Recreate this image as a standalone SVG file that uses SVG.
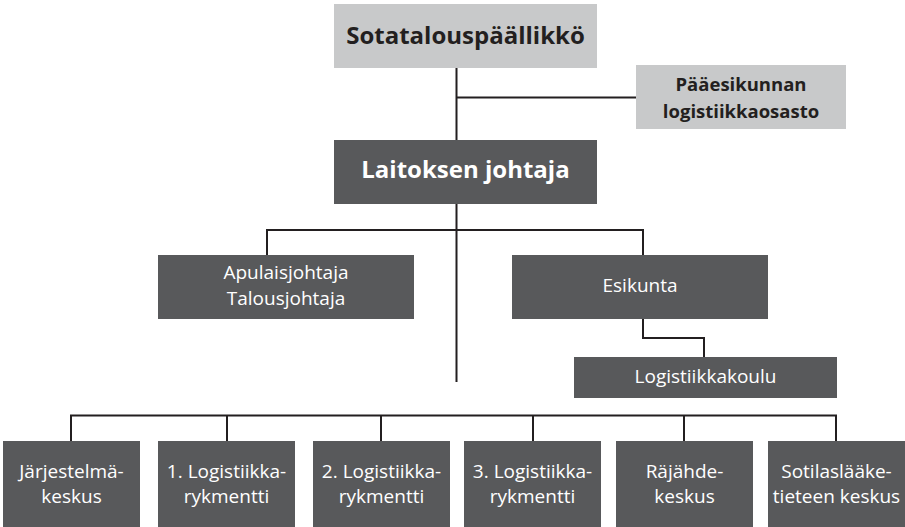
<svg xmlns="http://www.w3.org/2000/svg" width="905" height="527" viewBox="0 0 905 527">
<style>
.light{fill:#c8c9ca}
.dark{fill:#58595b}
.tb{font-family:"Open Sans","Liberation Sans",sans-serif;font-weight:700;fill:#231f20;text-anchor:middle}
.tw{font-family:"Open Sans","Liberation Sans",sans-serif;font-weight:700;fill:#ffffff;text-anchor:middle}
.tr{font-family:"Open Sans","Liberation Sans",sans-serif;font-weight:400;fill:#ffffff;text-anchor:middle;font-size:19px}
.ln{fill:none;stroke:#231f20;stroke-width:2}
</style>
<rect width="905" height="527" fill="#ffffff"/>
<g id="connectors">
<path class="ln" d="M456.5 68 V382"/>
<path class="ln" d="M456.5 97.5 H636"/>
<path class="ln" d="M267 255 V230 H643 V255"/>
<path class="ln" d="M643 319 V338 H704 V357"/>
<path class="ln" d="M71 441 V415.5 H836 V441"/>
<path class="ln" d="M227 415.5 V441 M381 415.5 V441 M533 415.5 V441 M684 415.5 V441"/>
</g>
<g id="sotatalouspaallikko">
<rect class="light" x="334" y="4" width="263" height="64"/>
<text class="tb" x="465.5" y="44" font-size="24">Sotatalouspäällikkö</text>
</g>
<g id="paaesikunta">
<rect class="light" x="636" y="65" width="210" height="64"/>
<text class="tb" x="741" y="91" font-size="18.5">Pääesikunnan</text>
<text class="tb" x="741" y="118" font-size="18.5">logistiikkaosasto</text>
</g>
<g id="laitoksen-johtaja">
<rect class="dark" x="334" y="140" width="263" height="64"/>
<text class="tw" x="465.5" y="178" font-size="24">Laitoksen johtaja</text>
</g>
<g id="apulaisjohtaja">
<rect class="dark" x="158" y="255" width="256" height="64"/>
<text class="tr" x="286" y="279">Apulaisjohtaja</text>
<text class="tr" x="286" y="305">Talousjohtaja</text>
</g>
<g id="esikunta">
<rect class="dark" x="512" y="255" width="256" height="64"/>
<text class="tr" x="640" y="292">Esikunta</text>
</g>
<g id="logistiikkakoulu">
<rect class="dark" x="574" y="357" width="263" height="41"/>
<text class="tr" x="705.5" y="383">Logistiikkakoulu</text>
</g>
<g id="jarjestelmakeskus">
<rect class="dark" x="3" y="441" width="137" height="86"/>
<text class="tr" x="71.5" y="478">Järjestelmä-</text>
<text class="tr" x="71.5" y="503">keskus</text>
</g>
<g id="logrykmentti1">
<rect class="dark" x="158" y="441" width="137" height="86"/>
<text class="tr" x="226.5" y="478">1. Logistiikka-</text>
<text class="tr" x="226.5" y="503">rykmentti</text>
</g>
<g id="logrykmentti2">
<rect class="dark" x="313" y="441" width="137" height="86"/>
<text class="tr" x="381.5" y="478">2. Logistiikka-</text>
<text class="tr" x="381.5" y="503">rykmentti</text>
</g>
<g id="logrykmentti3">
<rect class="dark" x="464" y="441" width="137" height="86"/>
<text class="tr" x="532.5" y="478">3. Logistiikka-</text>
<text class="tr" x="532.5" y="503">rykmentti</text>
</g>
<g id="rajahdekeskus">
<rect class="dark" x="616" y="441" width="137" height="86"/>
<text class="tr" x="684.5" y="478">Räjähde-</text>
<text class="tr" x="684.5" y="503">keskus</text>
</g>
<g id="sotilaslaaketieteen">
<rect class="dark" x="768" y="441" width="137" height="86"/>
<text class="tr" x="836.5" y="478">Sotilaslääke-</text>
<text class="tr" x="836.5" y="503">tieteen keskus</text>
</g>
</svg>
